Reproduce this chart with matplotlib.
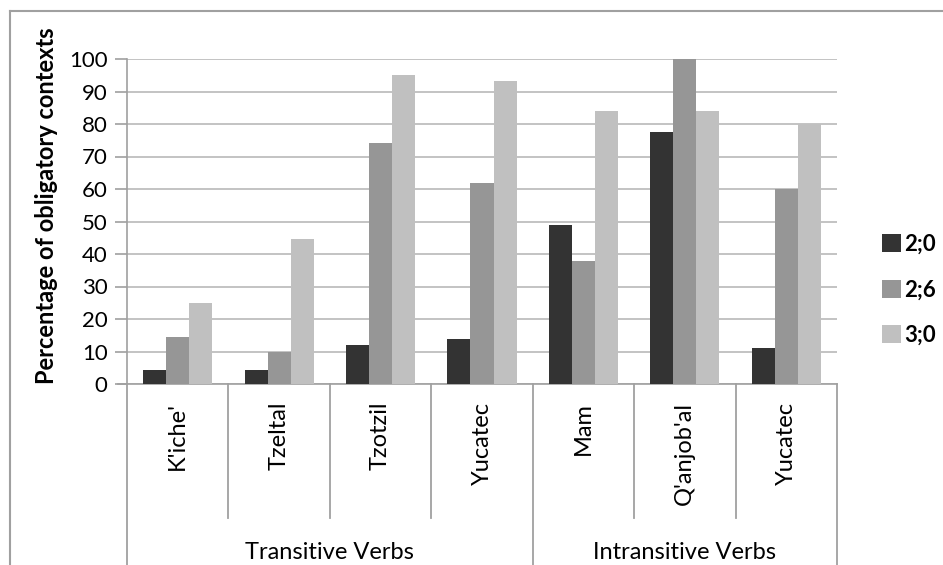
import matplotlib
matplotlib.use("Agg")
import matplotlib.pyplot as plt
from matplotlib.lines import Line2D
from matplotlib.patches import Patch
import numpy as np

# data
languages = ["K'iche'", "Tzeltal", "Tzotzil", "Yucatec", "Mam", "Q'anjob'al", "Yucatec"]
groups = ["Transitive Verbs", "Intransitive Verbs"]
group_sizes = [4, 3]
ages = ["2;0", "2;6", "3;0"]
age_2_0 = [4.4, 4.4, 12, 14, 49, 77.4, 11]
age_2_6 = [14.5, 10, 74.2, 62, 37.8, 100, 60]
age_3_0 = [25, 44.6, 95, 93.2, 84, 84, 80]
colors = ["#333333", "#969696", "#c0c0c0"]

plt.rcParams['font.family'] = ['Lato', 'DejaVu Sans']

W, H = 943, 565
fig = plt.figure(figsize=(W / 100, H / 100), dpi=100)
ax = fig.add_axes([127 / W, 181 / H, 710 / W, 325 / H])

x = np.arange(len(languages)) + 0.5
bw = 0.227
for k, vals in enumerate([age_2_0, age_2_6, age_3_0]):
    ax.bar(x + (k - 1) * bw, vals, width=bw, color=colors[k], zorder=3, label=ages[k])

ax.set_xlim(0, len(languages))
ax.set_ylim(0, 100)
ax.set_yticks(range(0, 101, 10))
ax.tick_params(axis='y', labelsize=16, length=9, color="#a0a0a0", width=1.2, pad=5)
ax.set_xticks([])
ax.yaxis.grid(True, color="#bebebe", linewidth=1.3, zorder=0)
for s in ["top", "right"]:
    ax.spines[s].set_visible(False)
ax.spines["left"].set_color("#a0a0a0")
ax.spines["left"].set_linewidth(1.2)
ax.spines["bottom"].set_visible(False)
ax.set_ylabel("Percentage of obligatory contexts", fontsize=17, fontweight="bold")
ax.yaxis.set_label_coords(-0.097, 0.548)

xt = ax.get_xaxis_transform()
# bottom axis line, extended a bit left like a tick
ax.plot([-9 / 101.4, len(languages)], [0, 0], color="#a0a0a0", lw=1.2, transform=xt, clip_on=False)

# category labels
for xi, name in zip(x, languages):
    ax.text(xi, -0.055, name, rotation=90, ha="center", va="top", fontsize=17, transform=xt)

# separators
edges = np.cumsum([0] + group_sizes)
for b in range(len(languages) + 1):
    if b in edges:
        y0 = -0.6
    else:
        y0 = -0.412
    ax.plot([b, b], [0, y0], color="#a0a0a0", lw=1.3, transform=xt, clip_on=False)

# group labels
for g, name in enumerate(groups):
    ax.text((edges[g] + edges[g + 1]) / 2, -0.517, name, ha="center", va="center",
            fontsize=17, transform=xt)

handles = [Patch(facecolor=c, edgecolor="none") for c in colors]
fig.legend(handles, ages, loc="center left", bbox_to_anchor=(862 / W, 1 - 290 / H),
           frameon=False, prop={"weight": "bold", "size": 16}, handlelength=0.86,
           handleheight=0.86, handletextpad=0.15, labelspacing=1.1, borderpad=0.4)

# outer chart border (only top and left visible)
fig.add_artist(Line2D([10 / W, 10 / W], [1 - 11 / H, 0], color="#a0a0a0", lw=1.5))
fig.add_artist(Line2D([10 / W, 1], [1 - 11 / H, 1 - 11 / H], color="#a0a0a0", lw=1.5))

fig.savefig("out.png", dpi=100)
